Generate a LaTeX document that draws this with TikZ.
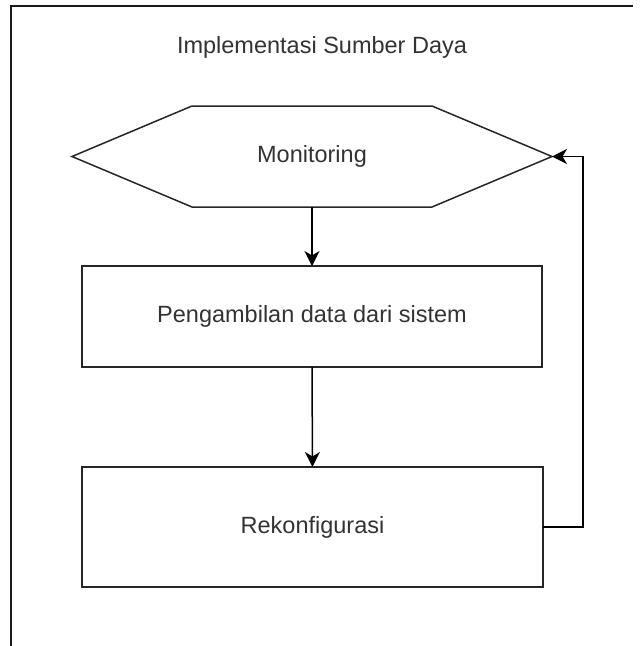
\documentclass[tikz,border=0pt]{standalone}
\usepackage{fontspec}
\setmainfont{Liberation Sans}
\usetikzlibrary{arrows.meta}
\begin{document}
\begin{tikzpicture}[x=1pt,y=-1pt,
  shapeline/.style={line width=1.5pt, draw=black!85},
  label/.style={font=\fontsize{23.5}{26}\selectfont, text=black!80},
  block/.style={shapeline, rectangle, inner sep=0pt, outer sep=0pt, label},
  flow/.style={line width=1.5pt, draw=black, -{Stealth[length=15pt,width=15pt,inset=4.5pt]}}
]
\useasboundingbox (0,0) rectangle (643,646);
\fill[white] (0,0) rectangle (643,646);

% enclosing frame
\draw[line width=1.8pt, black!90] (11,646) -- (11,6) -- (633,6);

% heading
\node[label] (title) at (322,47) {Implementasi Sumber Daya};

% hexagonal monitoring step
\node[label, inner sep=0pt, outer sep=0pt, minimum width=480, minimum height=101] (mon) at (312,156.5) {Monitoring};
\draw[shapeline, line join=miter] (mon.west) -- ([xshift=120]mon.north west) -- ([xshift=-120]mon.north east)
  -- (mon.east) -- ([xshift=-120]mon.south east) -- ([xshift=120]mon.south west) -- cycle;

% processing steps
\node[block, minimum width=460, minimum height=101] (data) at (312,316.5) {Pengambilan data dari sistem};
\node[block, minimum width=461, minimum height=120] (rek) at (312.5,527) {Rekonfigurasi};

% connectors
\draw[flow] (mon.south) -- (data.north);
\draw[flow] (data.south) -- (rek.north);
\coordinate (loop) at (583,527);
\draw[flow] (rek.east) -- (loop) |- (mon.east);
\end{tikzpicture}
\end{document}
